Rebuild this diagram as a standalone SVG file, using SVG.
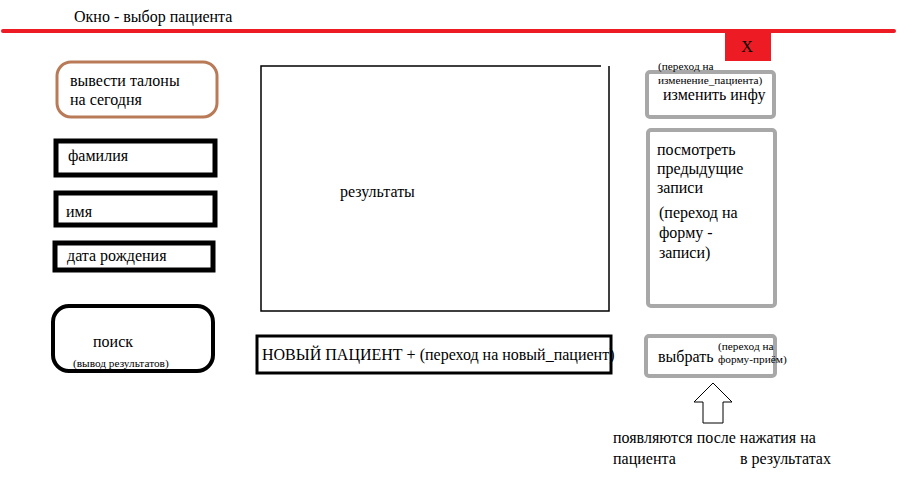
<svg xmlns="http://www.w3.org/2000/svg" width="923" height="501" viewBox="0 0 923 501">
<style>
text{font-family:"Liberation Serif","Times New Roman",serif;fill:#000}
.t{font-size:16px}
.s{font-size:11.3px}
.blk{fill:#fff;stroke:#000;stroke-width:5}
.gray{fill:#fff;stroke:#a8a8a8;stroke-width:4}
</style>
<rect width="923" height="501" fill="#fff"/>
<g id="title">
<text class="t" x="74" y="22">Окно - выбор пациента</text>
<line x1="3" y1="31" x2="894" y2="31" stroke="#ed1c24" stroke-width="4" stroke-linecap="round"/>
</g>
<g id="close">
<rect x="725" y="33" width="46" height="28" fill="#ed1c24"/>
<text class="t" x="747" y="52" text-anchor="middle">X</text>
</g>
<g id="talony">
<rect x="57" y="62" width="160" height="55" rx="14" fill="#fff" stroke="#b97a57" stroke-width="3"/>
<text class="t" x="70" y="86">вывести талоны</text>
<text class="t" x="70" y="105">на сегодня</text>
</g>
<g id="results">
<path d="M601,66 H261 V311 H609 V66" fill="none" stroke="#000" stroke-width="1.5"/>
<text class="t" x="340" y="197">результаты</text>
</g>
<g id="familiya">
<rect class="blk" x="56" y="141" width="159" height="34"/>
<text class="t" x="68" y="161">фамилия</text>
</g>
<g id="imya">
<rect class="blk" x="56" y="193" width="159" height="32"/>
<text class="t" x="66" y="217">имя</text>
</g>
<g id="data">
<rect class="blk" x="55" y="243" width="158" height="27"/>
<text class="t" x="67" y="261">дата рождения</text>
</g>
<g id="poisk">
<rect x="53" y="306" width="160" height="65" rx="16" fill="#fff" stroke="#000" stroke-width="4"/>
<text class="t" x="93" y="347">поиск</text>
<text class="s" x="73" y="367">(вывод результатов)</text>
</g>
<g id="novy">
<rect x="257" y="336" width="354" height="37" fill="#fff" stroke="#000" stroke-width="3"/>
<text class="t" x="262" y="360">НОВЫЙ ПАЦИЕНТ + (переход на новый_пациент)</text>
</g>
<g id="izmenit">
<rect class="gray" x="647" y="72" width="127" height="45" rx="3"/>
<text class="s" x="658" y="70">(переход на</text>
<text class="s" x="658" y="84">изменение_пациента)</text>
<text class="t" x="663" y="100">изменить инфу</text>
</g>
<g id="posmotret">
<rect class="gray" x="648" y="130" width="127" height="176" rx="3"/>
<text class="t" x="657" y="155">посмотреть</text>
<text class="t" x="657" y="174">предыдущие</text>
<text class="t" x="657" y="193">записи</text>
<text class="t" x="659" y="218">(переход на</text>
<text class="t" x="659" y="238">форму -</text>
<text class="t" x="659" y="258">записи)</text>
</g>
<g id="vybrat">
<rect class="gray" x="646" y="336" width="129" height="40" rx="3"/>
<text class="t" x="658" y="362">выбрать</text>
<text class="s" x="718" y="350">(переход на</text>
<text class="s" x="718" y="363">форму-приём)</text>
</g>
<g id="connectors">
<path d="M713,383 L732,402 H723 V423 H703 V402 H694 Z" fill="#fff" stroke="#000" stroke-width="1"/>
</g>
<g id="note">
<text class="t" x="613" y="443">появляются после нажатия на</text>
<text class="t" x="613" y="464">пациента</text>
<text class="t" x="740" y="464">в результатах</text>
</g>
</svg>
